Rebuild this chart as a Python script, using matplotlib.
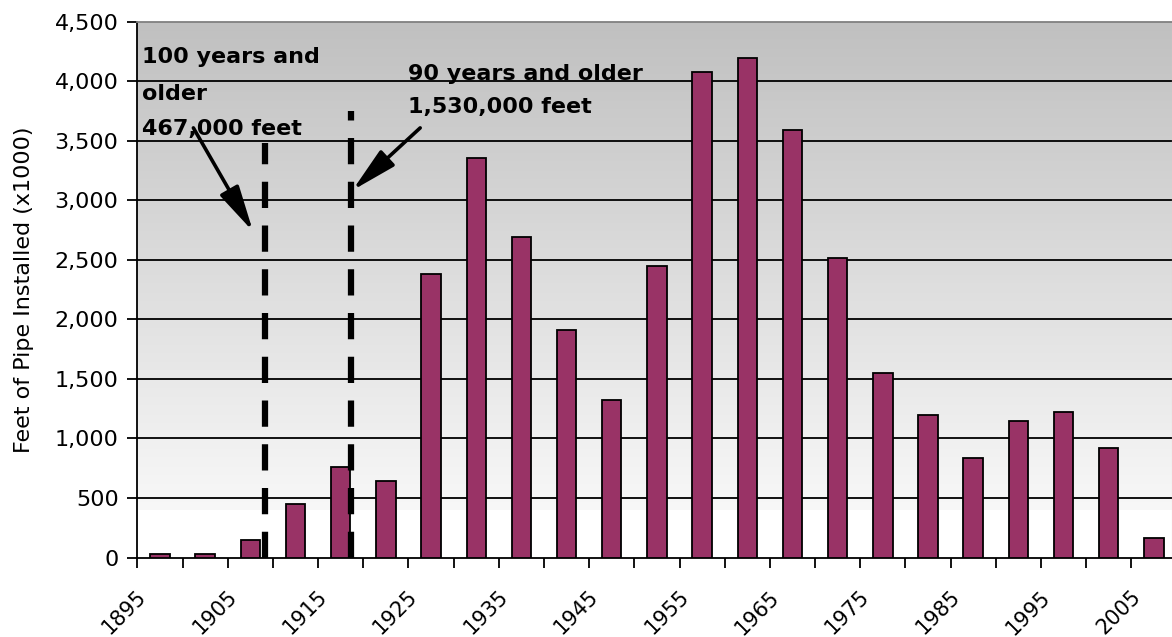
import numpy as np
import matplotlib
matplotlib.use("Agg")
import matplotlib.pyplot as plt
from matplotlib.ticker import FuncFormatter
from matplotlib.colors import to_rgb
from matplotlib.transforms import ScaledTranslation

plt.rcParams['font.family'] = ['DejaVu Sans']

# pipe installed per 5-year period (x1000 feet), bars centred mid-period
periods = [1895, 1900, 1905, 1910, 1915, 1920, 1925, 1930, 1935, 1940, 1945, 1950,
           1955, 1960, 1965, 1970, 1975, 1980, 1985, 1990, 1995, 2000, 2005]
feet_installed = [30, 30, 150, 450, 760, 640, 2380, 3360, 2690, 1910, 1320, 2450,
                  4080, 4200, 3590, 2520, 1550, 1200, 840, 1150, 1220, 920, 160]
year_labels = [1895, 1905, 1915, 1925, 1935, 1945, 1955, 1965, 1975, 1985, 1995, 2005]

# age cut-off markers (year, top of dashed line)
cutoff_100 = (1909.1, 3480)
cutoff_90 = (1918.6, 3750)
note_100 = ["100 years and", "older", "467,000 feet"]
note_90 = ["90 years and older", "1,530,000 feet"]

fig = plt.figure(figsize=(11.72, 6.37), dpi=100)
ax = fig.add_axes([0.1172, 0.1248, 0.8828, 0.8407])

x_min, x_max = 1895, 2009.5
y_min, y_max = 0, 4500

# grey-to-white background fill
rows = 400
v = np.linspace(y_max, y_min, rows)
top_c, bot_c = np.array(to_rgb('#c0c0c0')), np.array(to_rgb('#f8f8f8'))
t = np.clip((v - 400) / (y_max - 400), 0, 1)[:, None]
grad = bot_c * (1 - t) + top_c * t
grad[v < 400] = 1.0
ax.imshow(grad[:, None, :], extent=[x_min, x_max, y_min, y_max], aspect='auto',
          interpolation='nearest', zorder=0)

ax.set_xlim(x_min, x_max)
ax.set_ylim(y_min, y_max)

# horizontal gridlines
for g in range(500, 4500, 500):
    ax.axhline(g, color='black', lw=1.3, zorder=1)

centers = [p + 2.5 for p in periods]
ax.bar(centers, feet_installed, width=2.15, color='#993366', edgecolor='black',
       linewidth=1.3, zorder=3)

# dashed cut-off lines
for xc, ytop in (cutoff_100, cutoff_90):
    ax.plot([xc, xc], [0, ytop], color='black', lw=4.5, dashes=(4.2, 2.8),
            dash_capstyle='butt', solid_capstyle='butt', zorder=4)

# callout text, one line at a time
for line, yb in zip(note_100, [4156, 3844, 3549]):
    ax.text(1895.5, yb, line, fontsize=16, fontweight='bold', va='baseline',
            ha='left', zorder=5)
for line, yb in zip(note_90, [4013, 3734]):
    ax.text(1924.9, yb, line, fontsize=16, fontweight='bold', va='baseline',
            ha='left', zorder=5)

arrow_style = dict(arrowstyle='-|>,head_length=1.4,head_width=0.32', color='black',
                   lw=2.6, shrinkA=0, shrinkB=0, mutation_scale=20)
ax.annotate('', xy=(1907.8, 2740), xytext=(1901.2, 3610), arrowprops=arrow_style, zorder=5)
ax.annotate('', xy=(1918.8, 3085), xytext=(1926.3, 3610), arrowprops=arrow_style, zorder=5)

# axes and ticks
ax.set_yticks(range(0, 4501, 500))
ax.yaxis.set_major_formatter(FuncFormatter(lambda val, pos: f"{int(val):,}"))
ax.set_xticks(range(1895, 2010, 5))
ax.set_xticklabels([str(y) if y in year_labels else '' for y in range(1895, 2010, 5)],
                   rotation=45, ha='right', va='center', rotation_mode='anchor')
ax.tick_params(axis='both', direction='out', length=7, width=1.3, colors='black',
               labelsize=16)
ax.tick_params(axis='x', labelsize=15, pad=19)
ax.tick_params(axis='y', pad=6.5)
shift = ScaledTranslation(6 / 100, 0, fig.dpi_scale_trans)
for lab in ax.get_xticklabels():
    lab.set_transform(lab.get_transform() + shift)

ax.set_ylabel("Feet of Pipe Installed (x1000)", fontsize=16, labelpad=15)

for side in ('left', 'bottom'):
    ax.spines[side].set_linewidth(1.3)
    ax.spines[side].set_color('black')
ax.spines['top'].set_color('#808080')
ax.spines['top'].set_linewidth(1.3)
ax.spines['right'].set_color('#d8d8d8')

fig.savefig("out.png", dpi=100)
